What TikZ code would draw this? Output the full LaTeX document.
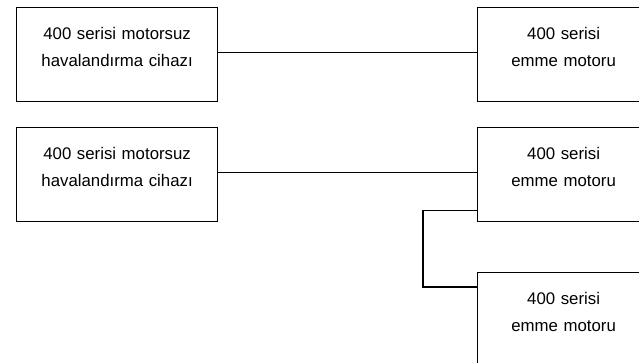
\documentclass[tikz,border=0pt]{standalone}
\usepackage{fontspec}
\setmainfont{Liberation Sans}
\begin{document}
\begin{tikzpicture}[x=1pt,y=-1pt,
  unitbox/.style={draw, line width=1.2pt, rectangle, anchor=north west, inner sep=0pt,
    align=center, text width=#1, minimum width=#1, minimum height=94pt,
    text height=13pt, text depth=44pt, font=\fontsize{16.8}{27}\selectfont},
  link/.style={line width=1.2pt}]
  % Frame of the picture
  \clip (0,0) rectangle (639,362);
  % Fanless units on the left
  \node[unitbox=201pt] (fan1) at (16,7)   {400 serisi motorsuz\\havalandırma cihazı};
  \node[unitbox=201pt] (fan2) at (16,127) {400 serisi motorsuz\\havalandırma cihazı};
  % Suction motors on the right
  \node[unitbox=172pt] (mot1) at (477,7)   {400 serisi\\emme motoru};
  \node[unitbox=172pt] (mot2) at (477,127) {400 serisi\\emme motoru};
  \node[unitbox=172pt] (mot3) at (477,272) {400 serisi\\emme motoru};
  % Connections
  \draw[link] ([yshift=2pt]fan1.east) -- ([yshift=2pt]mot1.west);
  \draw[link] ([yshift=2pt]fan2.east) -- ([yshift=2pt]mot2.west);
  \draw[link] ([yshift=12pt]mot2.south west) -- ++(-54,0) |- ([yshift=-15pt]mot3.north west);
\end{tikzpicture}
\end{document}
